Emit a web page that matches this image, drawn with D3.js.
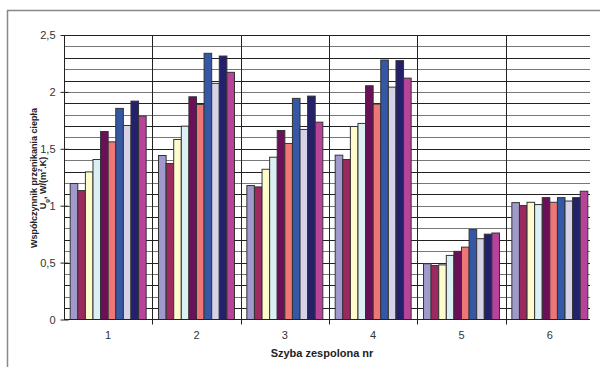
<!DOCTYPE html>
<html><head><meta charset="utf-8">
<script src="https://cdn.jsdelivr.net/npm/d3@7"></script>
<style>body{margin:0;background:#fff}svg{display:block;font-family:"Liberation Sans",Arial,sans-serif}</style>
</head><body><svg id="c" width="600" height="367"></svg>
<script>
const categories = ["1","2","3","4","5","6"];
const seriesNames = ["s1","s2","s3","s4","s5","s6","s7","s8","s9","s10"];
const s1  = [1.195, 1.441, 1.177, 1.444, 0.490, 1.027];
const s2  = [1.133, 1.371, 1.165, 1.406, 0.475, 1.001];
const s3  = [1.297, 1.582, 1.320, 1.696, 0.480, 1.030];
const s4  = [1.406, 1.699, 1.426, 1.723, 0.563, 1.010];
const s5  = [1.652, 1.957, 1.661, 2.054, 0.599, 1.071];
const s6  = [1.561, 1.890, 1.547, 1.893, 0.636, 1.030];
const s7  = [1.855, 2.339, 1.943, 2.280, 0.790, 1.071];
const s8  = [1.705, 2.075, 1.670, 2.042, 0.710, 1.041];
const s9  = [1.919, 2.315, 1.963, 2.275, 0.750, 1.071];
const s10 = [1.787, 2.172, 1.734, 2.121, 0.760, 1.127];
const seriesValues = [s1,s2,s3,s4,s5,s6,s7,s8,s9,s10];
const colors = ["#9f9acb","#9c2a5e","#fefbcd","#dbf0f4","#6a1058","#ef7676","#3558a6","#d6d3e8","#24216c","#b8439a"];
const yTicks = [0,0.5,1,1.5,2,2.5];
const yTickLabels = ["0","0,5","1","1,5","2","2,5"];

const svg = d3.select("#c");
const L=64, R=594, T=35, B=319.5;
const x = d3.scaleBand().domain(categories).range([L,R]).paddingInner(0.14).paddingOuter(0.07);
const xGroup = d3.scaleBand().domain(categories).range([L,R]);
const x1 = d3.scaleBand().domain(seriesNames).range([0,x.bandwidth()]);
const y = d3.scaleLinear().domain([0,2.5]).range([B,T]);

// outer frame
svg.append("line").attr("x1",7).attr("x2",600).attr("y1",10.5).attr("y2",10.5).attr("stroke","#888").attr("stroke-width",1.5);
svg.append("line").attr("x1",7.5).attr("x2",7.5).attr("y1",10).attr("y2",367).attr("stroke","#888").attr("stroke-width",1.5);

// gridlines every 0.1
const grid = d3.range(1,26).map(i=>i/10);
svg.append("g").selectAll("line").data(grid).join("line")
  .attr("x1",L).attr("x2",590)
  .attr("y1",d=>Math.round(y(d))+0.5).attr("y2",d=>Math.round(y(d))+0.5)
  .attr("stroke",(d,i)=> (i%2? "#777":"#222")).attr("stroke-width",1);

// group dividers
const bounds = categories.map(c=>xGroup(c)).slice(1);
svg.append("g").selectAll("line").data(bounds).join("line")
  .attr("x1",d=>Math.round(d)+0.5).attr("x2",d=>Math.round(d)+0.5)
  .attr("y1",T).attr("y2",B+5).attr("stroke","#222");

// bars
const g = svg.append("g");
categories.forEach((c,ci)=>{
  seriesValues.forEach((vals,si)=>{
    g.append("rect")
      .attr("x",x(c)+x1(seriesNames[si]))
      .attr("y",y(vals[ci]))
      .attr("width",x1.bandwidth())
      .attr("height",B-y(vals[ci]))
      .attr("fill",colors[si]).attr("stroke","#333").attr("stroke-width",1);
  });
});

// y axis
const yAxis = d3.axisLeft(y).tickValues(yTicks).tickFormat((d,i)=>yTickLabels[i]).tickSize(4).tickPadding(5);
const ya = svg.append("g").attr("transform",`translate(${L+0.5},0)`).call(yAxis);
ya.select(".domain").attr("stroke","#222").attr("d",`M0,${T}V${B}`);
ya.selectAll(".tick line").attr("stroke","#222").attr("x2",-4).attr("x1",4);
ya.selectAll(".tick text").attr("font-size",11).attr("fill","#333").attr("font-family","Liberation Sans, Arial");

// x axis
const xAxis = d3.axisBottom(xGroup).tickSize(0).tickPadding(12);
const xa = svg.append("g").attr("transform",`translate(0,${B})`).call(xAxis);
xa.select(".domain").attr("stroke","#222").attr("d",`M${L},0H590`);
xa.selectAll(".tick text").attr("font-size",11).attr("fill","#333").attr("font-family","Liberation Sans, Arial");

// axis titles
svg.append("text").attr("x",322).attr("y",357).style("text-anchor","middle")
  .attr("font-size",11).attr("font-weight","bold").attr("fill","#222").text("Szyba zespolona nr");

svg.append("text").attr("transform","translate(37,178) rotate(-90)").style("text-anchor","middle")
  .attr("font-size",9).attr("font-weight","bold").attr("fill","#222").text("Współczynnik przenikania ciepła");
const t2 = svg.append("text").attr("transform","translate(46,183) rotate(-90)").style("text-anchor","middle")
  .attr("font-size",9).attr("font-weight","bold").attr("fill","#222");
t2.append("tspan").text("U");
t2.append("tspan").attr("font-size",6).attr("dy",2.5).text("g");
t2.append("tspan").attr("dy",-2.5).text(", W/(m");
t2.append("tspan").attr("font-size",6).attr("dy",-4).text("2");
t2.append("tspan").attr("dy",4).text(".K)");
</script></body></html>
